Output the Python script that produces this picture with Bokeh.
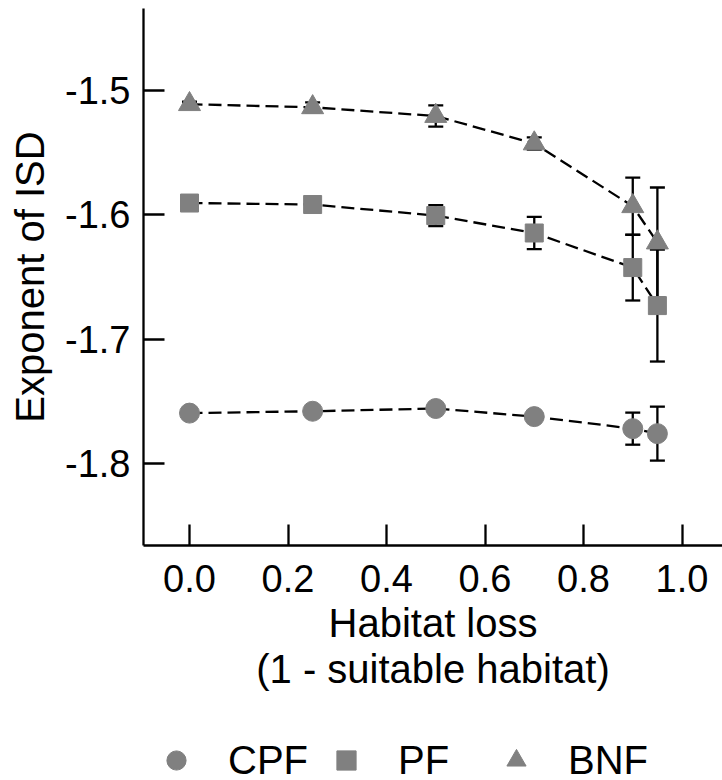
from bokeh.plotting import figure
from bokeh.layouts import column
from bokeh.models import (Range1d, FixedTicker, NumeralTickFormatter, Whisker, TeeHead,
                          ColumnDataSource, Legend, LegendItem)
from bokeh.embed import file_html
from bokeh.resources import INLINE

# ---- data ----
habitat_loss = [0.0, 0.25, 0.5, 0.7, 0.9, 0.95]
cpf = [-1.7595, -1.7580, -1.7558, -1.7623, -1.7720, -1.7760]
cpf_err = [0.002, 0.002, 0.003, 0.003, 0.0129, 0.0217]
pf = [-1.5905, -1.5917, -1.6006, -1.6146, -1.6424, -1.6730]
pf_err = [0.002, 0.003, 0.0085, 0.0129, 0.0265, 0.0450]
bnf = [-1.5110, -1.5135, -1.5205, -1.5426, -1.5931, -1.6223]
bnf_err = [0.002, 0.004, 0.0085, 0.0050, 0.0230, 0.0443]
series_names = ["CPF", "PF", "BNF"]
x_ticks = [0.0, 0.2, 0.4, 0.6, 0.8, 1.0]
y_ticks = [-1.8, -1.7, -1.6, -1.5]

FONT = "Liberation Sans"
GREY = "#808080"
MAIN_H = 712

p = figure(width=722, height=MAIN_H, output_backend="svg", toolbar_location=None,
           x_range=Range1d(-0.0934, 1.0822), y_range=Range1d(-1.866, -1.434),
           min_border_left=143, min_border_right=0, min_border_top=8,
           min_border_bottom=MAIN_H - 545)
p.outline_line_color = None
p.xgrid.visible = False
p.ygrid.visible = False
p.background_fill_color = "white"
p.border_fill_color = "white"

for ax in (p.xaxis[0], p.yaxis[0]):
    ax.axis_line_width = 2.3
    ax.axis_line_color = "black"
    ax.major_tick_line_width = 2.3
    ax.major_tick_line_color = "black"
    ax.major_tick_in = 21
    ax.major_tick_out = 0
    ax.minor_tick_line_color = None
    ax.major_label_text_font = FONT
    ax.major_label_text_font_size = "38px"
    ax.major_label_text_color = "black"
    ax.axis_label_text_font = FONT
    ax.axis_label_text_font_size = "40px"
    ax.axis_label_text_font_style = "normal"
    ax.axis_label_text_color = "black"
    ax.formatter = NumeralTickFormatter(format="0.0")

p.xaxis[0].ticker = FixedTicker(ticks=x_ticks)
p.yaxis[0].ticker = FixedTicker(ticks=y_ticks)
p.xaxis[0].major_label_standoff = 19
p.yaxis[0].major_label_standoff = 13
p.xaxis[0].axis_label = "Habitat loss\n(1 - suitable habitat)"
p.xaxis[0].axis_label_text_line_height = 1.05
p.yaxis[0].axis_label = "Exponent of ISD"
p.xaxis[0].axis_label_standoff = 6
p.yaxis[0].axis_label_standoff = 10

styles = (("circle", 20), ("square", 18), ("triangle", 22))
sources = []
for vals, errs, (marker, size) in zip((cpf, pf, bnf), (cpf_err, pf_err, bnf_err), styles):
    src = ColumnDataSource(dict(x=habitat_loss, y=vals,
                                lo=[v - e for v, e in zip(vals, errs)],
                                hi=[v + e for v, e in zip(vals, errs)]))
    sources.append(src)
    w = Whisker(source=src, base="x", lower="lo", upper="hi", dimension="height",
                line_width=2.3, line_color="black", level="underlay",
                upper_head=TeeHead(size=15, line_width=2.3, line_color="black"),
                lower_head=TeeHead(size=15, line_width=2.3, line_color="black"))
    p.add_layout(w)
    p.line("x", "y", source=src, line_color="black", line_width=2.3, line_dash="13 6")
    p.scatter("x", "y", source=src, marker=marker, size=size,
              fill_color=GREY, line_color=GREY, line_width=1)

# ---- legend strip below the chart (its own frame, data kept out of view) ----
p2 = figure(width=722, height=780 - MAIN_H, output_backend="svg", toolbar_location=None,
            x_axis_type=None, y_axis_type=None, x_range=Range1d(0, 1), y_range=Range1d(0, 1),
            min_border=0, min_border_left=0, min_border_right=0, min_border_top=0,
            min_border_bottom=0)
p2.outline_line_color = None
p2.xgrid.visible = False
p2.ygrid.visible = False
p2.background_fill_color = "white"
p2.border_fill_color = "white"
leg_renderers = []
for src, (marker, size) in zip(sources, styles):
    r = p2.scatter("x", "y", source=src, marker=marker, size=size,
                   fill_color=GREY, line_color=GREY, line_width=1)
    leg_renderers.append(r)

legend = Legend(items=[LegendItem(label=n, renderers=[r]) for n, r in zip(series_names, leg_renderers)],
                orientation="horizontal", location=(7, -4),
                glyph_width=52, glyph_height=48, label_standoff=26, label_width=80,
                spacing=12, padding=0, margin=0,
                label_text_font=FONT, label_text_font_size="40px", label_text_color="black",
                border_line_color=None, background_fill_alpha=0)
p2.add_layout(legend)

layout = column(p, p2, spacing=0)
open("out.html", "w").write(file_html(layout, INLINE))
